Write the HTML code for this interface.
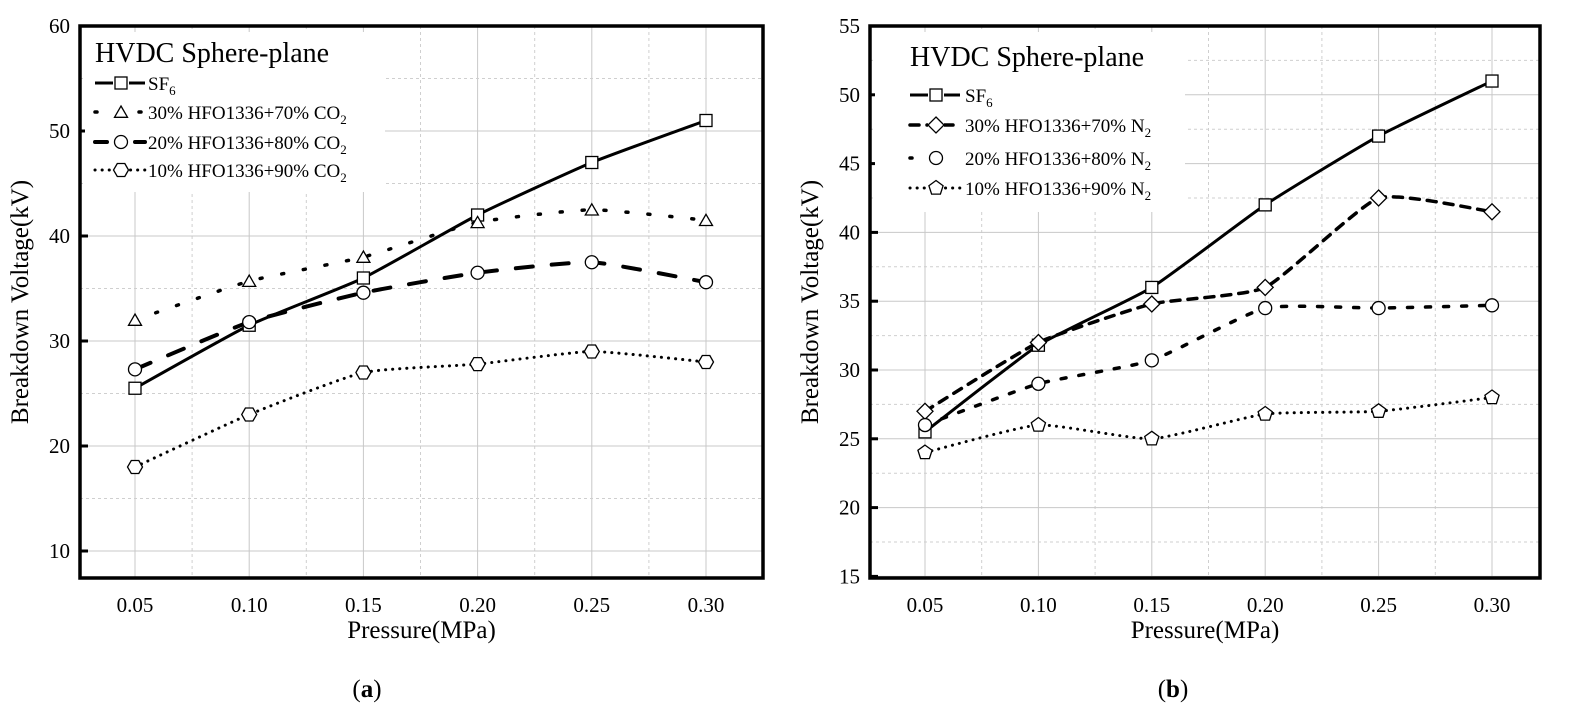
<!DOCTYPE html>
<html><head><meta charset="utf-8"><style>
html,body{margin:0;padding:0;background:#fff;}
svg{display:block;font-family:"Liberation Serif",serif;}
</style></head><body>
<svg id="chart" width="1595" height="721" viewBox="0 0 1595 721"></svg>
<script>
const xCats=[0.05,0.10,0.15,0.20,0.25,0.30];
const xTickLabels=["0.05","0.10","0.15","0.20","0.25","0.30"];
const aSF6=[25.5,31.5,36,42,47,51];
const aCO2_30=[32,35.7,38,41.3,42.5,41.5];
const aCO2_20=[27.3,31.8,34.6,36.5,37.5,35.6];
const aCO2_10=[18,23,27,27.8,29,28];
const aYTicks=[10,20,30,40,50,60];
const bSF6=[25.5,31.8,36,42,47,51];
const bN2_30=[27,32,34.8,36,42.5,41.5];
const bN2_20=[26,29,30.7,34.5,34.5,34.7];
const bN2_10=[24,26,25,26.8,27,28];
const bYTicks=[15,20,25,30,35,40,45,50,55];
const aLegend=["SF6","30% HFO1336+70% CO2","20% HFO1336+80% CO2","10% HFO1336+90% CO2"];
const bLegend=["SF6","30% HFO1336+70% N2","20% HFO1336+80% N2","10% HFO1336+90% N2"];

const NS="http://www.w3.org/2000/svg";
const svg=document.getElementById('chart');
function mk(tag,attrs,parent){const e=document.createElementNS(NS,tag);for(const k in attrs)e.setAttribute(k,attrs[k]);(parent||svg).appendChild(e);return e;}
function smooth(pts){let d=`M${pts[0][0]},${pts[0][1]}`;for(let i=0;i<pts.length-1;i++){const p0=pts[Math.max(0,i-1)],p1=pts[i],p2=pts[i+1],p3=pts[Math.min(pts.length-1,i+2)];const t=0.08;d+=` C${p1[0]+(p2[0]-p0[0])*t},${p1[1]+(p2[1]-p0[1])*t} ${p2[0]-(p3[0]-p1[0])*t},${p2[1]-(p3[1]-p1[1])*t} ${p2[0]},${p2[1]}`;}return d;}
function marker(g,type,x,y){
  const st={fill:'#fff',stroke:'#000','stroke-width':1.3};let m;
  if(type==='square')m=mk('rect',Object.assign({x:x-6,y:y-6,width:12,height:12},st),g);
  else if(type==='circle')m=mk('circle',Object.assign({cx:x,cy:y,r:6.5},st),g);
  else{let n=type==='triangle'?3:type==='diamond'?4:type==='pentagon'?5:6;let r=type==='diamond'?8:7.5;let off=type==='hexagon'?Math.PI/6:0;
    let p=[];for(let i=0;i<n;i++){const a=-Math.PI/2+off+i*2*Math.PI/n;p.push((x+r*Math.cos(a)).toFixed(1)+','+(y+r*Math.sin(a)+(type==='triangle'?1.5:0)).toFixed(1));}
    m=mk('polygon',Object.assign({points:p.join(' ')},st),g);}
  
  
}
function legendText(g,label,x,y){
  const t=mk('text',{x:x,y:y,'font-size':19},g);
  const m=label.match(/^(.*?)(SF|CO|N)(\d)$/);
  if(m){t.appendChild(document.createTextNode(m[1]+m[2]));const s=mk('tspan',{dy:5,'font-size':13},t);s.textContent=m[3];}
  else t.textContent=label;
}
function panel(o){
  const g=mk('g',{});
  
  
  const X=v=>o.x0+(v-xCats[0])/(xCats[1]-xCats[0])*o.xs;
  const Y=v=>o.yTop+(o.yMax-v)*o.ys;
  for(let i=0;i<xCats.length;i++){mk('line',{x1:X(xCats[i]),x2:X(xCats[i]),y1:o.top,y2:o.bot,stroke:'#c8c8c8','stroke-width':1},g);
    if(i<xCats.length-1)mk('line',{x1:X(xCats[i])+o.xs/2,x2:X(xCats[i])+o.xs/2,y1:o.top,y2:o.bot,stroke:'#cfcfcf','stroke-width':1,'stroke-dasharray':'3 3'},g);}
  const step=o.yt[1]-o.yt[0];
  o.yt.forEach((v,i)=>{mk('line',{x1:o.left,x2:o.right,y1:Y(v),y2:Y(v),stroke:'#c8c8c8','stroke-width':1},g);
    const ym=Y(v-step/2); if(ym<o.bot)mk('line',{x1:o.left,x2:o.right,y1:ym,y2:ym,stroke:'#cfcfcf','stroke-width':1,'stroke-dasharray':'3 3'},g);
    mk('line',{x1:o.left,x2:o.left+8,y1:Y(v),y2:Y(v),stroke:'#000','stroke-width':3},g);
    const t=mk('text',{x:o.left-10,y:Y(v)+7,'font-size':21,'text-anchor':'end'},g);t.textContent=v;
    });
  xTickLabels.forEach((l,i)=>{const t=mk('text',{x:X(xCats[i]),y:612,'font-size':21,'text-anchor':'middle'},g);t.textContent=l;
    });
  const lb=mk('rect',{x:o.left+5,y:o.top+6,width:o.lw,height:o.lh,fill:'#fff'},g);
  
  o.series.forEach((s,si)=>{
    const pts=s.v.map((v,i)=>[X(xCats[i]),Y(v)]);
    const p=mk('path',{d:smooth(pts),fill:'none',stroke:'#000','stroke-width':s.w,'stroke-dasharray':s.dash,'stroke-linecap':s.cap},g);
    
    pts.forEach(q=>marker(g,s.m,q[0],q[1]));
    const ly=o.ly[si];
    const ll=mk('line',{x1:o.lx,x2:o.lx+50,y1:ly,y2:ly,stroke:'#000','stroke-width':s.w,'stroke-dasharray':s.ldash||s.dash,'stroke-linecap':s.cap},g);
    
    mk('rect',{x:o.lx+18,y:ly-8,width:16,height:16,fill:'#fff'},g);
    marker(g,s.m,o.lx+26,ly);
    legendText(g,o.legend[si],o.lx+o.ltx,ly+7);
  });
  const tt=mk('text',{x:o.lx,y:o.titleY,'font-size':28},g);tt.textContent='HVDC Sphere-plane';
  
  mk('rect',{x:o.left,y:o.top,width:o.right-o.left,height:o.bot-o.top,fill:'none',stroke:'#000','stroke-width':3.5},g);
  const yl=mk('text',{x:0,y:0,'font-size':25,'text-anchor':'middle',transform:`translate(${o.left-52},${(o.top+o.bot)/2}) rotate(-90)`},g);yl.textContent='Breakdown Voltage(kV)';
  
  const xl=mk('text',{x:(o.left+o.right)/2,y:638,'font-size':25,'text-anchor':'middle'},g);xl.textContent='Pressure(MPa)';
  
  const cap=mk('text',{x:o.capX,y:697,'font-size':25,'text-anchor':'middle'},g);
  cap.appendChild(document.createTextNode('('));const b=mk('tspan',{'font-weight':'bold'},cap);b.textContent=o.cap;cap.appendChild(document.createTextNode(')'));
  
}
panel({name:'panel-a',left:80,right:763,top:26,bot:578,x0:135,xs:114.2,yTop:26,yMax:60,ys:10.5,yt:aYTicks,
  lx:95,ltx:53,ly:[83,112,142,170],titleY:62,lw:300,lh:160,legend:aLegend,capX:367,cap:'a',
  series:[{v:aSF6,m:'square',w:3,dash:'none',cap:'butt'},
          {v:aCO2_30,m:'triangle',w:3.5,dash:'2 20',cap:'round'},
          {v:aCO2_20,m:'circle',w:4,dash:'17 19',cap:'round',ldash:'12 28'},
          {v:aCO2_10,m:'hexagon',w:3,dash:'0.1 7',cap:'round'}]});
panel({name:'panel-b',left:870,right:1540,top:26,bot:578,x0:925,xs:113.4,yTop:26,yMax:55,ys:13.76,yt:bYTicks,
  lx:910,ltx:55,ly:[95,125,158,188],titleY:66,lw:310,lh:180,legend:bLegend,capX:1173,cap:'b',
  series:[{v:bSF6,m:'square',w:3,dash:'none',cap:'butt'},
          {v:bN2_30,m:'diamond',w:3.5,dash:'9 8',cap:'round'},
          {v:bN2_20,m:'circle',w:3.5,dash:'5 13',cap:'round',ldash:'2 26'},
          {v:bN2_10,m:'pentagon',w:3,dash:'0.1 7',cap:'round'}]});
</script>
</body></html>
